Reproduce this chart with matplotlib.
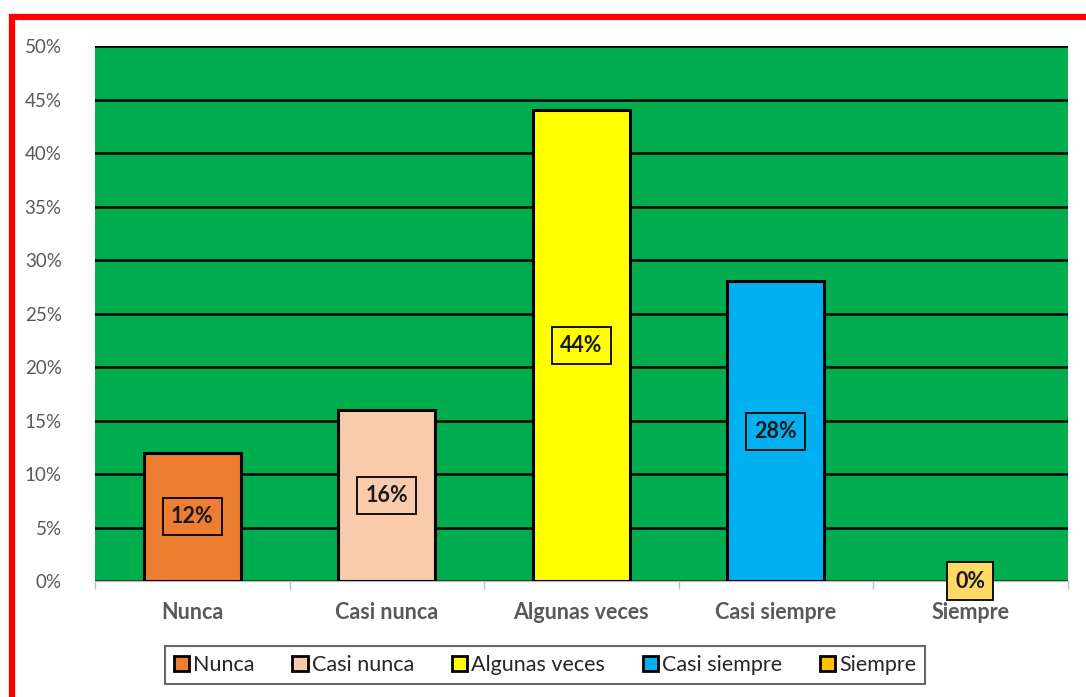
import numpy as np
import matplotlib
matplotlib.use("Agg")
import matplotlib.pyplot as plt
from matplotlib.patches import Patch, Rectangle

plt.rcParams["font.family"] = ["Lato", "DejaVu Sans"]

categories = ["Nunca", "Casi nunca", "Algunas veces", "Casi siempre", "Siempre"]
values = [12, 16, 44, 28, 0]
colors = ["#ED7D31", "#F8CBAD", "#FFFF00", "#00B0F0", "#FFC000"]
label_fill = ["#ED7D31", "#F8CBAD", "#FFFF00", "#00B0F0", "#FFD966"]
yticks = [0, 5, 10, 15, 20, 25, 30, 35, 40, 45, 50]

GREEN = "#00AD4E"
GREY = "#595959"

fig = plt.figure(figsize=(10.86, 6.97), dpi=100)
ax = fig.add_axes([0.0875, 0.1664, 0.8955, 0.7676])
ax.set_facecolor(GREEN)

x = np.arange(len(categories))
edge_w = [2.2 if v > 0 else 0 for v in values]
ax.bar(x, values, width=0.5, color=colors, edgecolor="black",
       linewidth=edge_w, zorder=3)

# value labels in the middle of each bar
for xi, v, fc in zip(x, values, label_fill):
    ax.text(xi, v / 2, f"{v}%", ha="center", va="center", fontsize=15.5,
            fontweight="bold", color="#1a1a1a", zorder=5,
            bbox=dict(boxstyle="square,pad=0.38", fc=fc, ec="black", lw=1.3))

ax.set_xlim(-0.5, len(categories) - 0.5)
ax.set_ylim(0, 50)
ax.set_yticks(yticks)
ax.set_yticklabels([f"{t}%" for t in yticks], color=GREY, fontsize=13.5)
ax.yaxis.grid(True, color="black", linewidth=1.8, zorder=1)
ax.set_axisbelow(True)

ax.set_xticks(x)
ax.set_xticklabels(categories, color=GREY, fontsize=15.5, fontweight="bold")
ax.set_xticks(np.arange(-0.5, len(categories)), minor=True)
ax.tick_params(axis="x", which="major", length=0, pad=15)
ax.tick_params(axis="x", which="minor", length=6, color="#BFBFBF", width=1)
ax.tick_params(axis="y", length=0, pad=24)

for s in ["left", "right", "top"]:
    ax.spines[s].set_visible(False)
ax.spines["bottom"].set_color("#BFBFBF")
ax.spines["bottom"].set_linewidth(1)

handles = [Patch(facecolor=c, edgecolor="black", linewidth=2) for c in colors]
leg = fig.legend(handles, categories, loc="center", ncol=5,
                 bbox_to_anchor=(0.502, 0.046), fontsize=15.5,
                 frameon=True, fancybox=False, handlelength=0.7,
                 handleheight=0.7, handletextpad=0.2, columnspacing=1.75,
                 borderpad=0.42)
leg.get_frame().set_edgecolor("#404040")
leg.get_frame().set_linewidth(1.5)
for t in leg.get_texts():
    t.set_color("#262626")

# red outer frame, running off the right and bottom edges
fig.patches.append(Rectangle((0.0115, -0.05), 1.1, 1.026, transform=fig.transFigure,
                             fill=False, edgecolor="#FF0000", linewidth=4.5))

fig.savefig("out.png", dpi=100)
